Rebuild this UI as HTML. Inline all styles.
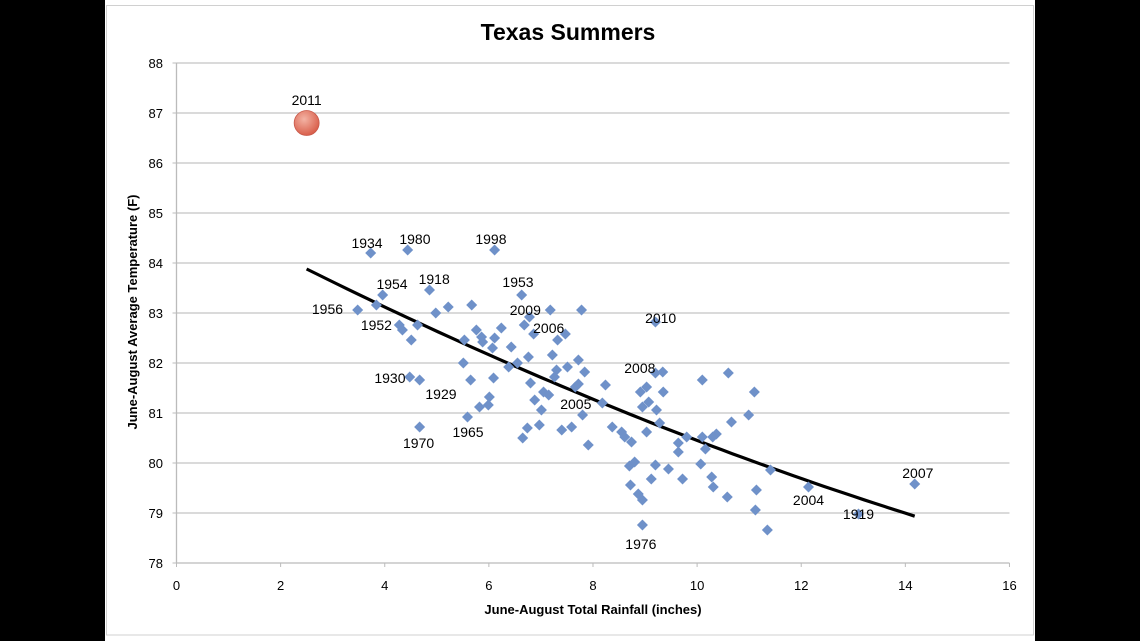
<!DOCTYPE html>
<html><head><meta charset="utf-8"><style>
html,body{margin:0;padding:0;background:#000;width:1140px;height:641px;overflow:hidden}
svg{display:block;font-family:"Liberation Sans",Arial,sans-serif}
</style></head><body>
<svg id="chart" width="1140" height="641" viewBox="0 0 1140 641">
<rect x="105" y="0" width="930" height="641" fill="#fff"/>
<rect x="106.5" y="5.5" width="927" height="629.5" fill="none" stroke="#d0d0d0" stroke-width="1"/>
<text x="568" y="40" text-anchor="middle" font-size="23" font-weight="bold">Texas Summers</text>
<g id="grid"></g><g id="axes"></g><g id="trend"></g><g id="pts"></g><g id="labels"></g>
<text x="593" y="614" text-anchor="middle" font-size="13" font-weight="bold">June-August Total Rainfall (inches)</text>
<text transform="translate(137,312) rotate(-90)" text-anchor="middle" font-size="13" font-weight="bold">June-August Average Temperature (F)</text>
</svg>
<script>
const rain=[3.73,4.44,6.11,3.96,4.86,3.48,3.84,4.98,5.22,5.67,4.28,4.34,4.63,4.51,6.63,6.78,6.68,6.86,7.18,7.78,7.47,7.32,7.22,7.72,7.51,7.30,7.26,7.84,7.66,7.72,8.24,8.18,7.80,8.37,8.55,8.61,8.74,7.91,7.59,7.40,6.97,6.74,6.65,7.01,6.88,7.05,7.15,6.80,6.76,6.55,6.38,6.43,6.24,6.11,6.07,5.88,5.86,5.76,5.53,5.51,5.65,6.09,6.01,5.99,5.82,5.59,4.67,4.48,4.67,9.20,9.20,9.34,8.91,9.03,8.95,9.07,9.03,9.22,9.35,10.10,10.60,11.10,10.99,10.66,10.37,10.30,10.10,10.16,9.80,9.64,9.64,9.28,9.20,9.45,10.07,10.28,9.72,9.12,8.70,8.80,11.41,10.31,10.58,11.14,11.12,11.35,12.14,13.10,14.18,8.95,8.95,8.87,8.72];
const temp=[84.2,84.26,84.26,83.36,83.46,83.06,83.16,83.0,83.12,83.16,82.76,82.66,82.76,82.46,83.36,82.92,82.76,82.58,83.06,83.06,82.58,82.46,82.16,82.06,81.92,81.86,81.72,81.82,81.52,81.58,81.56,81.2,80.96,80.72,80.62,80.52,80.42,80.36,80.72,80.66,80.76,80.7,80.5,81.06,81.26,81.42,81.36,81.6,82.12,82.0,81.92,82.32,82.7,82.5,82.3,82.42,82.52,82.66,82.46,82.0,81.66,81.7,81.32,81.16,81.12,80.92,80.72,81.72,81.66,82.82,81.8,81.82,81.42,81.52,81.12,81.22,80.62,81.06,81.42,81.66,81.8,81.42,80.96,80.82,80.58,80.52,80.52,80.28,80.52,80.4,80.22,80.8,79.96,79.88,79.98,79.72,79.68,79.68,79.94,80.02,79.86,79.52,79.32,79.46,79.06,78.66,79.52,78.98,79.58,78.76,79.26,79.38,79.56];
const highlightRain=[2.5];
const highlightTemp=[86.8];
const trendCoef=[85.226,-0.5588,0.00813];
const trendRange=[2.5,14.18];
const xTicks=[0,2,4,6,8,10,12,14,16];
const yTicks=[78,79,80,81,82,83,84,85,86,87,88];
const labelText=["2011","1934","1980","1998","1954","1918","1956","1952","1953","2009","2006","2010","2008","2005","1930","1929","1965","1970","1976","2004","1919","2007"];
const labelX=[2.5,3.66,4.58,6.04,4.14,4.95,2.9,3.84,6.56,6.7,7.15,9.3,8.9,7.67,4.1,5.08,5.6,4.65,8.92,12.14,13.1,14.24];
const labelY=[87.26,84.4,84.48,84.48,83.58,83.68,83.08,82.76,83.62,83.06,82.7,82.9,81.9,81.18,81.7,81.38,80.62,80.4,78.38,79.26,78.98,79.8];
const X=v=>176.5+v*52.06, Y=v=>563-(v-78)*50;
const NS="http://www.w3.org/2000/svg";
function mk(tag,attrs,parent){const e=document.createElementNS(NS,tag);for(const k in attrs)e.setAttribute(k,attrs[k]);parent.appendChild(e);return e;}
const grid=document.getElementById('grid'),axes=document.getElementById('axes');
yTicks.forEach(t=>{
  if(t>78){const g=mk('line',{x1:X(0),x2:X(16),y1:Y(t),y2:Y(t),stroke:'#c4c4c4','stroke-width':1.3},grid);
  
  }
  const tk=mk('line',{x1:X(0)-4,x2:X(0),y1:Y(t),y2:Y(t),stroke:'#bbb'},axes);
  
  
  const l=mk('text',{x:163,y:Y(t)+5,'text-anchor':'end','font-size':13},axes);l.textContent=t;
  
  
});
xTicks.forEach(t=>{
  const tk=mk('line',{x1:X(t),x2:X(t),y1:Y(78),y2:Y(78)+4,stroke:'#bbb'},axes);
  
  
  const l=mk('text',{x:X(t),y:Y(78)+27,'text-anchor':'middle','font-size':13},axes);l.textContent=t;
  
  
});
const ya=mk('line',{x1:X(0),x2:X(0),y1:Y(88),y2:Y(78),stroke:'#bbb','stroke-width':1.3},axes);


const xa=mk('line',{x1:X(0),x2:X(16),y1:Y(78),y2:Y(78),stroke:'#bbb','stroke-width':1.3},axes);


const pts=document.getElementById('pts');
rain.forEach((r,i)=>{
  const cx=X(r),cy=Y(temp[i]);
  const p=mk('polygon',{points:`${cx},${cy-5.5} ${cx+5.5},${cy} ${cx},${cy+5.5} ${cx-5.5},${cy}`,fill:'#6f91c9'},pts);
  
  
});
const defs=mk('defs',{},pts);
const rg=mk('radialGradient',{id:'rg',cx:'40%',cy:'35%',r:'65%'},defs);
mk('stop',{offset:'0%','stop-color':'#f3b3a4'},rg);mk('stop',{offset:'100%','stop-color':'#d95f4b'},rg);
highlightRain.forEach((r,i)=>{
  const c=mk('circle',{cx:X(r),cy:Y(highlightTemp[i]),r:12.5,fill:'url(#rg)',stroke:'#c8594a','stroke-width':0.8},pts);
  
  
});
let d='';const n=60;
for(let i=0;i<=n;i++){const x=trendRange[0]+(trendRange[1]-trendRange[0])*i/n;const y=trendCoef[0]+trendCoef[1]*x+trendCoef[2]*x*x;d+=(i?'L':'M')+X(x).toFixed(1)+','+Y(y).toFixed(1);}
const tl=mk('path',{d:d,fill:'none',stroke:'#000','stroke-width':3.2},document.getElementById('trend'));


const lg=document.getElementById('labels');
labelText.forEach((t,i)=>{
  const l=mk('text',{x:X(labelX[i]),y:Y(labelY[i])+5,'text-anchor':'middle','font-size':14},lg);
  l.textContent=t;
  
  
});
</script>
</body></html>
